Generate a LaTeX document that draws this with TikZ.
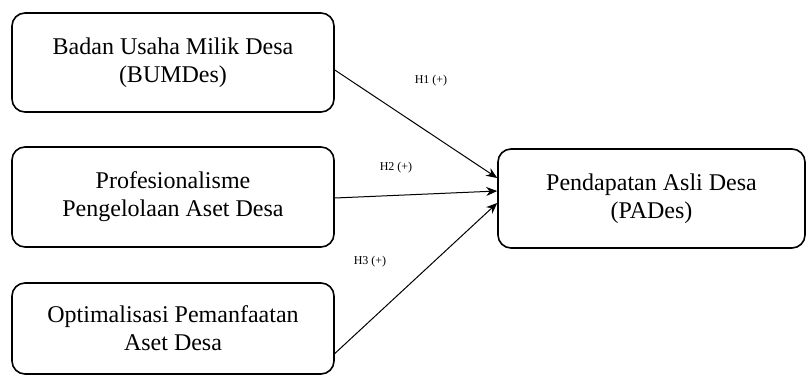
\documentclass[tikz,border=0pt]{standalone}
\usepackage{fontspec}
\setmainfont{Liberation Serif}
\usetikzlibrary{arrows.meta}
\begin{document}
\begin{tikzpicture}[x=1pt,y=-1pt,
  varbox/.style={draw, line width=1.6pt, rounded corners=13pt, align=center,
    font=\fontsize{24}{28}\selectfont, inner sep=0pt},
  link/.style={line width=1pt, -{Stealth[length=11pt,width=9pt]}},
  hlabel/.style={font=\fontsize{12}{14}\selectfont, inner sep=1pt}]
\useasboundingbox (0,0) rectangle (807,376);
\node[varbox, minimum width=322pt, minimum height=99pt] (b1) at (173,62.5) {Badan Usaha Milik Desa\\(BUMDes)};
\node[varbox, minimum width=322pt, minimum height=100pt] (b2) at (173,197) {Profesionalisme\\Pengelolaan Aset Desa};
\node[varbox, minimum width=322pt, minimum height=91pt] (b3) at (173,328.5) {Optimalisasi Pemanfaatan\\Aset Desa};
\node[varbox, minimum width=307pt, minimum height=99pt] (pad) at (651.5,198.5) {Pendapatan Asli Desa\\(PADes)};
\draw[link] ([yshift=-7.5pt]b1.east) -- ([yshift=20.5pt]pad.west);
\draw[link] ([yshift=-1pt]b2.east) -- ([yshift=7.5pt]pad.west);
\draw[link] ([yshift=-25pt]b3.east) -- ([yshift=-4.5pt]pad.west);
\node[hlabel] (h1) at (431,81) {H1 (+)};
\node[hlabel] (h2) at (396,168) {H2 (+)};
\node[hlabel] (h3) at (370,262) {H3 (+)};
\end{tikzpicture}
\end{document}
